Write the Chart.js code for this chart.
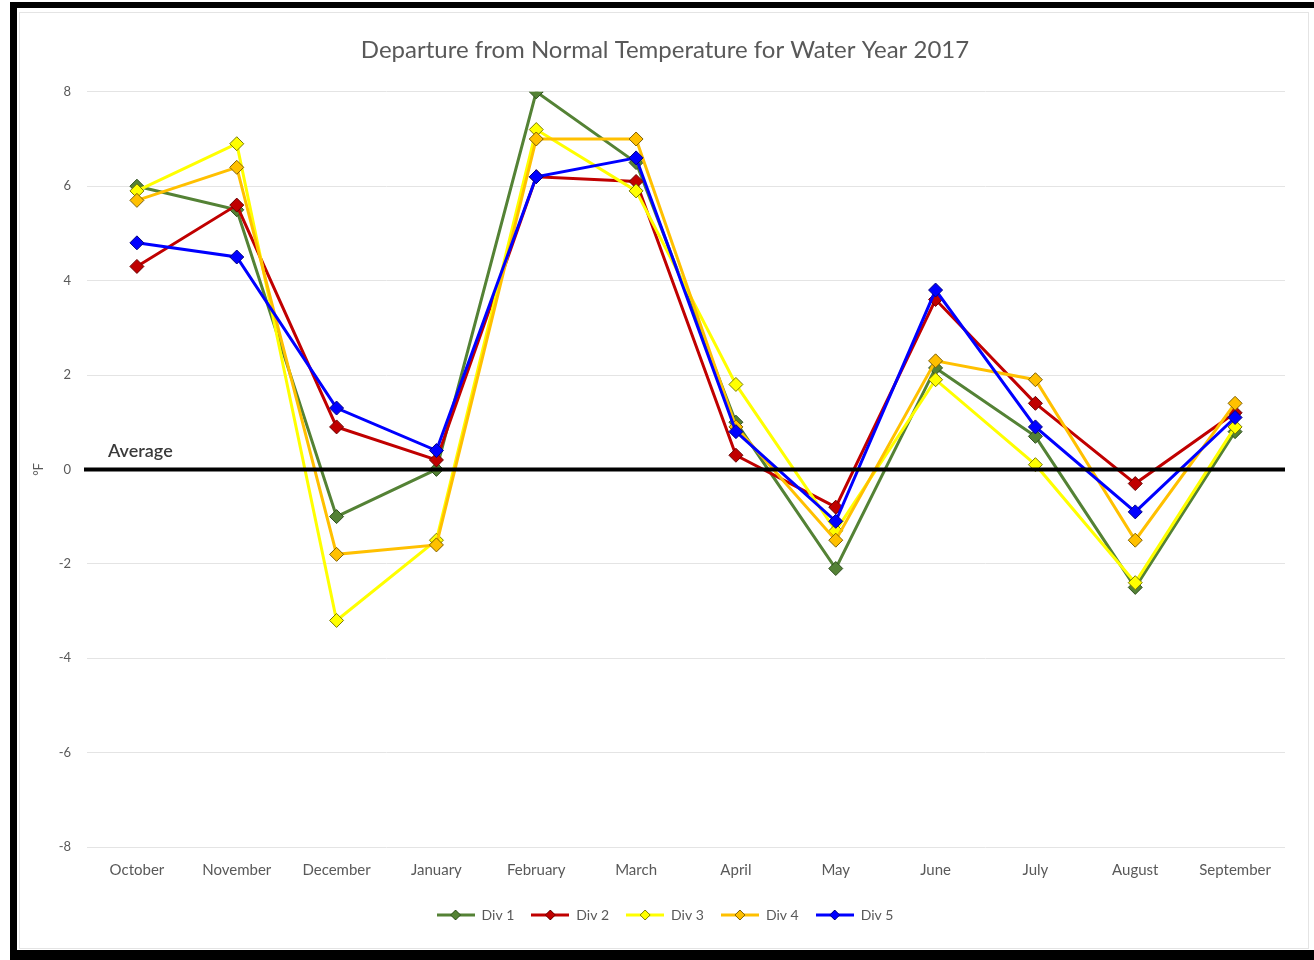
<!DOCTYPE html>
<html>
<head>
<meta charset="utf-8">
<script src="https://cdn.jsdelivr.net/npm/chart.js@4"></script>
<style>
  html, body { margin: 0; padding: 0; background: #fff; }
  #wrap { position: absolute; left: 0; top: 0; width: 1314px; height: 960px; }
  .bar { position: absolute; background: #000; }
  #card { position: absolute; left: 19px; top: 12px; width: 1288px; height: 935px; border: 1px solid #e4e4e4; }
  #box { position: absolute; left: 0; top: 0; width: 1314px; height: 960px; }
</style>
</head>
<body>
<div id="wrap">
  <div class="bar" style="left:10px;top:2px;width:1304px;height:6px"></div>
  <div class="bar" style="left:10px;top:2px;width:7px;height:958px"></div>
  <div class="bar" style="left:10px;top:950px;width:1304px;height:10px"></div>
  <div id="card"></div>
  <div id="box"><canvas id="chart"></canvas></div>
</div>
<script>
// Departure from normal temperature, water year 2017
const months = ["October", "November", "December", "January", "February", "March",
  "April", "May", "June", "July", "August", "September"];
const div1 = [6.0, 5.5, -1.0, 0.0, 8.0, 6.5, 1.0, -2.1, 2.15, 0.7, -2.5, 0.8];
const div2 = [4.3, 5.6, 0.9, 0.2, 6.2, 6.1, 0.3, -0.8, 3.6, 1.4, -0.3, 1.2];
const div3 = [5.9, 6.9, -3.2, -1.5, 7.2, 5.9, 1.8, -1.3, 1.9, 0.1, -2.4, 0.9];
const div4 = [5.7, 6.4, -1.8, -1.6, 7.0, 7.0, 0.9, -1.5, 2.3, 1.9, -1.5, 1.4];
const div5 = [4.8, 4.5, 1.3, 0.4, 6.2, 6.6, 0.8, -1.1, 3.8, 0.9, -0.9, 1.1];
const yTicks = [-8, -6, -4, -2, 0, 2, 4, 6, 8];

const seriesNames = ["Div 1", "Div 2", "Div 3", "Div 4", "Div 5"];
const seriesData = [div1, div2, div3, div4, div5];
const lineColors = ["#548235", "#c00000", "#ffff00", "#ffc000", "#0000ff"];
const edgeColors = ["#2f4f1f", "#6a0000", "#7a7a00", "#7f5f00", "#000080"];

const textGray = "#595959";
const font = "Lato, 'Open Sans', sans-serif";

// little line + diamond image for the legend
function legendIcon(i) {
  const c = document.createElement("canvas");
  c.width = 38; c.height = 14;
  const g = c.getContext("2d");
  g.strokeStyle = lineColors[i];
  g.lineWidth = 3;
  g.beginPath(); g.moveTo(0, 7); g.lineTo(38, 7); g.stroke();
  g.fillStyle = lineColors[i];
  g.strokeStyle = edgeColors[i];
  g.lineWidth = 1;
  g.beginPath();
  g.moveTo(19, 2); g.lineTo(24, 7); g.lineTo(19, 12); g.lineTo(14, 7); g.closePath();
  g.fill(); g.stroke();
  return c;
}
const icons = seriesNames.map((n, i) => legendIcon(i));

const datasets = seriesNames.map((name, i) => ({
  label: name,
  data: seriesData[i],
  borderColor: lineColors[i],
  backgroundColor: lineColors[i],
  pointBorderColor: edgeColors[i],
  pointBackgroundColor: lineColors[i],
  pointStyle: "rectRot",
  pointRadius: 7,
  pointBorderWidth: 1,
  borderWidth: 3,
  tension: 0,
  order: 5 - i
}));

// black "Average" line at zero, drawn over the series
const averageLine = {
  id: "averageLine",
  afterDatasetsDraw(chart) {
    const ctx = chart.ctx;
    const area = chart.chartArea;
    const y0 = chart.scales.y.getPixelForValue(0);
    ctx.save();
    ctx.strokeStyle = "#000";
    ctx.lineWidth = 4;
    ctx.beginPath();
    ctx.moveTo(area.left - 3, y0);
    ctx.lineTo(area.right, y0);
    ctx.stroke();
    ctx.fillStyle = "#3a3a3a";
    ctx.font = "600 18px " + font;
    ctx.textBaseline = "alphabetic";
    ctx.fillText("Average", area.left + 21, y0 - 12);
    ctx.restore();
  }
};

new Chart(document.getElementById("chart"), {
  type: "line",
  data: { labels: months, datasets: datasets },
  plugins: [averageLine],
  options: {
    responsive: true,
    maintainAspectRatio: false,
    animation: false,
    layout: { padding: { left: 45, right: 29, top: 13, bottom: 28 } },
    plugins: {
      title: {
        display: true,
        text: "Departure from Normal Temperature for Water Year 2017",
        color: textGray,
        font: { family: font, size: 24, weight: "normal" },
        padding: { top: 23, bottom: 27 }
      },
      legend: {
        position: "bottom",
        labels: {
          usePointStyle: true,
          pointStyleWidth: 38,
          boxHeight: 13,
          color: textGray,
          font: { family: font, size: 14 },
          padding: 17,
          generateLabels: () => seriesNames.map((n, i) => ({
            text: n,
            pointStyle: icons[i],
            fillStyle: lineColors[i],
            strokeStyle: lineColors[i],
            lineWidth: 0,
            fontColor: textGray,
            datasetIndex: i,
            hidden: false
          }))
        }
      },
      tooltip: { enabled: false }
    },
    scales: {
      x: {
        offset: true,
        afterFit: (scale) => { scale.height = 44; },
        grid: { display: false },
        border: { display: false },
        ticks: { color: textGray, font: { family: font, size: 15 }, padding: 6, maxRotation: 0 }
      },
      y: {
        min: -8,
        max: 8,
        afterBuildTicks: (scale) => { scale.ticks = yTicks.map(v => ({ value: v })); },
        afterFit: (scale) => { scale.width = 42; },
        grid: { color: "#e4e4e4", lineWidth: 1, drawTicks: false },
        border: { display: false },
        title: { display: true, text: "°F", color: textGray, font: { family: font, size: 13 }, padding: { top: -14, bottom: 0 } },
        ticks: { color: textGray, font: { family: font, size: 13 }, padding: 16 }
      }
    }
  }
});
</script>
</body>
</html>
